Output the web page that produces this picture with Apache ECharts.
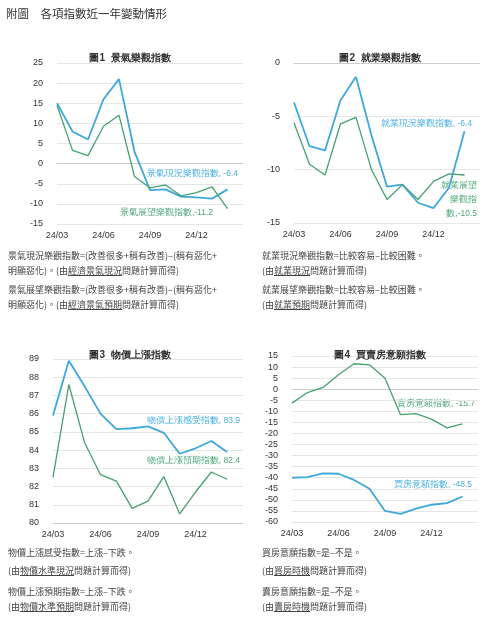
<!DOCTYPE html>
<html><head><meta charset="utf-8">
<script src="https://cdn.jsdelivr.net/npm/echarts@6/dist/echarts.min.js"></script>
<style>
body{margin:0;background:#fff;font-family:"Noto Sans CJK TC",sans-serif;}
#c{position:absolute;left:0;top:0;width:498px;height:628px;}
.t{position:absolute;font-size:9px;color:#444;white-space:nowrap;line-height:12px;}
.u{text-decoration:underline;}
#h{position:absolute;left:6px;top:5px;font-size:11.5px;color:#333;}
</style></head><body>
<div id="c"></div>
<div id="h">附圖　各項指數近一年變動情形</div>
<div class="t" style="left:8px;top:250px">景氣現況樂觀指數=(改善很多+稍有改善)–(稍有惡化+</div>
<div class="t" style="left:8px;top:265px">明顯惡化)。(由<span class="u">經濟景氣現況</span>問題計算而得)</div>
<div class="t" style="left:8px;top:284px">景氣展望樂觀指數=(改善很多+稍有改善)–(稍有惡化+</div>
<div class="t" style="left:8px;top:299px">明顯惡化)。(由<span class="u">經濟景氣預期</span>問題計算而得)</div>
<div class="t" style="left:262px;top:250px">就業現況樂觀指數=比較容易–比較困難。</div>
<div class="t" style="left:262px;top:265px">(由<span class="u">就業現況</span>問題計算而得)</div>
<div class="t" style="left:262px;top:284px">就業展望樂觀指數=比較容易–比較困難。</div>
<div class="t" style="left:262px;top:299px">(由<span class="u">就業預期</span>問題計算而得)</div>
<div class="t" style="left:8px;top:547px">物價上漲感受指數=上漲–下跌。</div>
<div class="t" style="left:8px;top:565px">(由<span class="u">物價水準現況</span>問題計算而得)</div>
<div class="t" style="left:8px;top:586px">物價上漲預期指數=上漲–下跌。</div>
<div class="t" style="left:8px;top:601px">(由<span class="u">物價水準預期</span>問題計算而得)</div>
<div class="t" style="left:262px;top:547px">買房意願指數=是–不是。</div>
<div class="t" style="left:262px;top:565px">(由<span class="u">買房時機</span>問題計算而得)</div>
<div class="t" style="left:262px;top:586px">賣房意願指數=是–不是。</div>
<div class="t" style="left:262px;top:601px">(由<span class="u">賣房時機</span>問題計算而得)</div>
<script>
const months=['24/03','24/04','24/05','24/06','24/07','24/08','24/09','24/10','24/11','24/12','25/01','25/02'];
const bizNow=[15,8,6,16,21,3,-6.6,-6.4,-8.2,-8.4,-8.7,-6.4];
const bizExp=[14.5,3.3,2,9.3,12,-3.2,-6,-5.3,-8,-7.2,-5.8,-11.2];
const jobNow=[-3.7,-7.8,-8.2,-3.5,-1.3,-6.8,-11.6,-11.4,-13.1,-13.6,-11.7,-6.4];
const jobExp=[-5.6,-9.5,-10.5,-5.7,-5.1,-10,-12.8,-11.4,-12.8,-11.1,-10.4,-10.5];
const priceNow=[85.9,88.9,87.5,86,85.15,85.2,85.3,84.95,83.8,84.1,84.5,83.9];
const priceExp=[82.5,87.6,84.4,82.65,82.3,80.8,81.2,82.55,80.5,81.7,82.8,82.4];
const sellW=[-6.3,-1.5,0.8,6.5,11.5,11,5,-11.5,-11,-13.5,-17.5,-15.7];
const buyW=[-40,-39.7,-38,-38.2,-41,-45,-55,-56.3,-54,-52.2,-51.5,-48.5];
const BLUE='#3ea7dc',GREEN='#46a070',BL='#4aaee0',GL='#4ea877';
const grids=[
 {left:57,top:63,width:186,height:161,min:-15,max:25,iv:5},
 {left:294,top:63,width:186,height:160,min:-15,max:0,iv:5},
 {left:53,top:359,width:190,height:164,min:80,max:89,iv:1},
 {left:292,top:356,width:186,height:166,min:-60,max:15,iv:5}
];
const sers=[[bizNow,bizExp],[jobNow,jobExp],[priceNow,priceExp],[buyW,sellW]];
const ttl=['圖1  景氣樂觀指數','圖2  就業樂觀指數','圖3  物價上漲指數','圖4  買賣房意願指數'];
const ttlPos=[[125,48],[375,48],[125,345],[375,345]];
const opt={animation:false,grid:[],xAxis:[],yAxis:[],series:[],title:[],graphic:[]};
grids.forEach((g,i)=>{
 opt.grid.push({left:g.left,top:g.top,width:g.width,height:g.height});
 opt.xAxis.push({type:'category',gridIndex:i,data:months,boundaryGap:false,max:12,
  axisLine:{lineStyle:{color:'#ccc'}},axisTick:{show:false},
  axisLabel:{interval:2,color:'#333',fontSize:9,margin:7}});
 opt.yAxis.push({type:'value',gridIndex:i,min:g.min,max:g.max,interval:g.iv,
  axisLabel:{color:'#333',fontSize:9,margin:14},splitLine:{lineStyle:{color:'#e6e6e6'}}});
 opt.series.push({type:'line',xAxisIndex:i,yAxisIndex:i,data:sers[i][0],symbol:'none',lineStyle:{color:BLUE,width:1.8}});
 opt.series.push({type:'line',xAxisIndex:i,yAxisIndex:i,data:sers[i][1],symbol:'none',lineStyle:{color:GREEN,width:1.3}});
 opt.title.push({text:ttl[i],left:ttlPos[i][0],top:ttlPos[i][1],textAlign:'center',textStyle:{fontSize:10,fontWeight:'bold',color:'#333'}});
});
const lab=(x,y,t,c,al)=>opt.graphic.push({type:'text',left:undefined,x:x,y:y,style:{text:t,fill:c,fontSize:8.5,align:al||'left',verticalAlign:'middle',lineHeight:14}});
lab(238,174,'景氣現況樂觀指數, -6.4',BL,'right');
lab(213,213,'景氣展望樂觀指數,-11.2',GL,'right');
lab(472,124,'就業現況樂觀指數, -6.4',BL,'right');
lab(477,200,'就業展望\n樂觀指\n數,-10.5',GL,'right');
lab(240,421,'物價上漲感受指數, 83.9',BL,'right');
lab(240,461,'物價上漲預期指數, 82.4',GL,'right');
lab(475,404,'賣房意願指數, -15.7',GL,'right');
lab(472,485,'買房意願指數, -48.5',BL,'right');
echarts.init(document.getElementById('c')).setOption(opt);
</script></body></html>
